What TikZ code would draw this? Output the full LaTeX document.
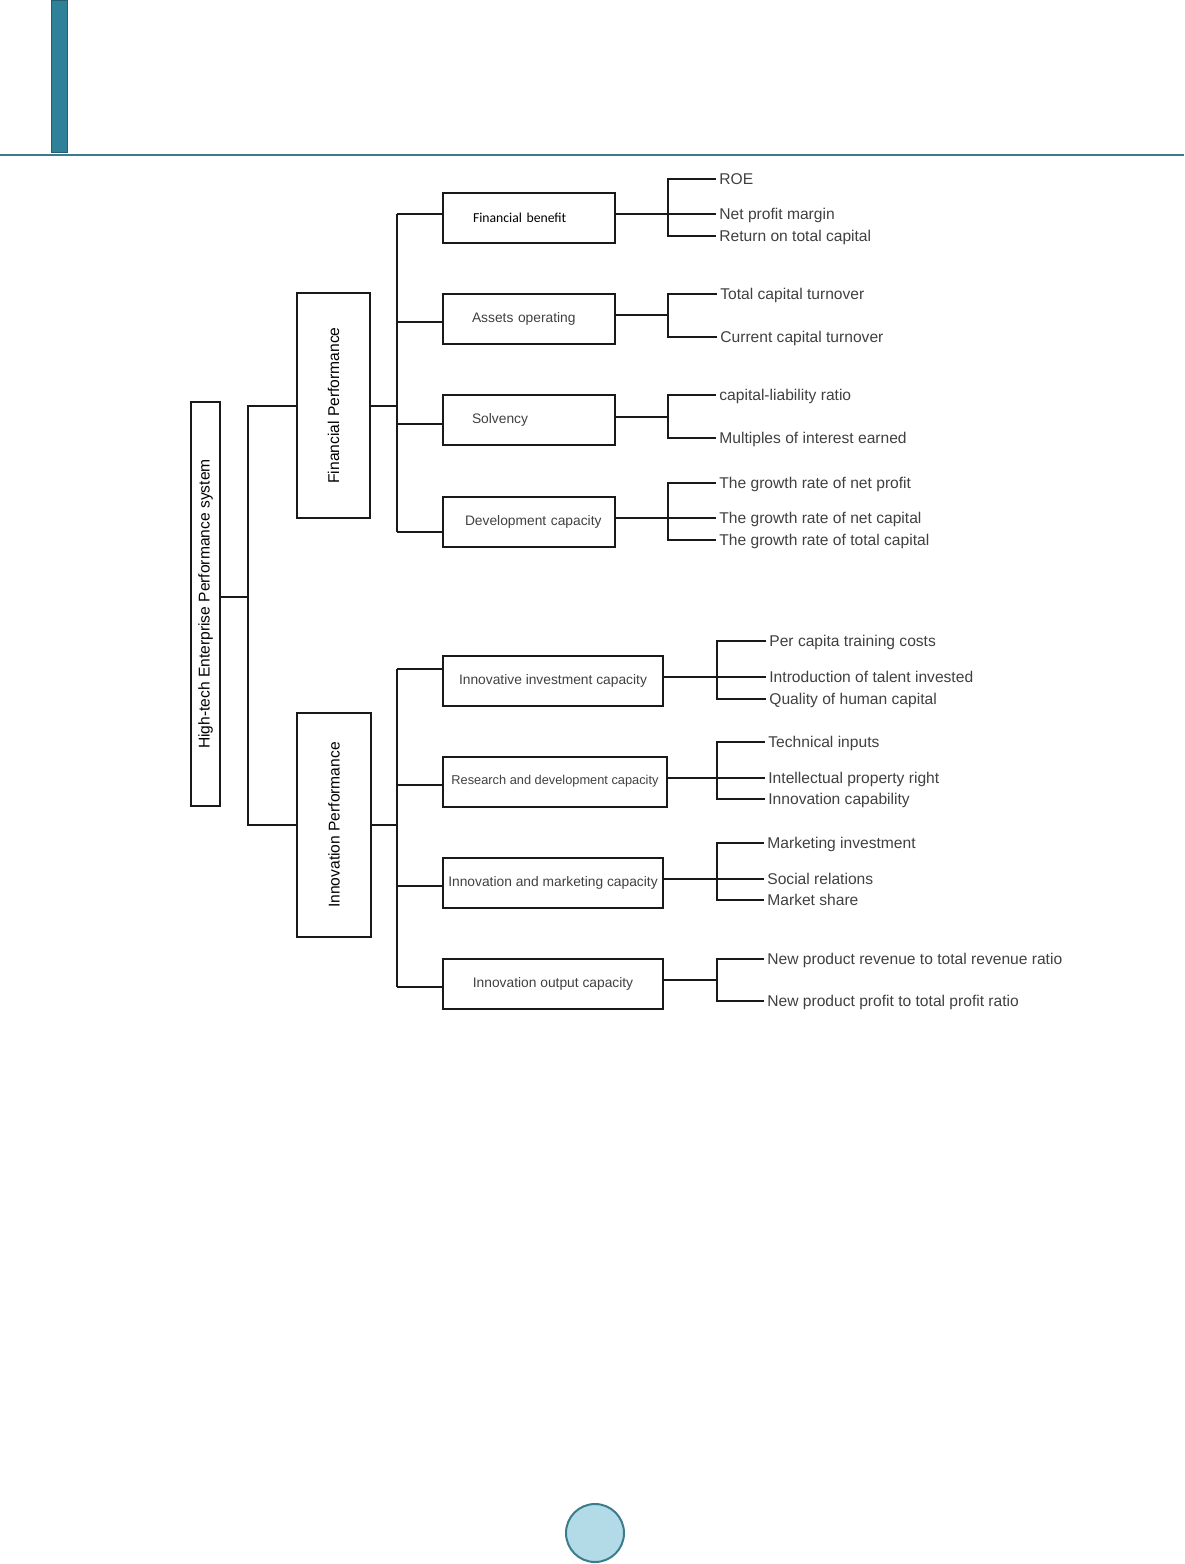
\documentclass[tikz,border=0pt]{standalone}
\usepackage{fontspec}
\setmainfont{Liberation Sans}
\newfontfamily\calibri{Carlito}
\usetikzlibrary{calc}
\usetikzlibrary{positioning}

\definecolor{headteal}{HTML}{2E8199}
\definecolor{headedge}{HTML}{245F6E}
\definecolor{rulecol}{HTML}{3B7C8C}
\definecolor{dotfill}{HTML}{B3DBE7}
\definecolor{textgray}{HTML}{404040}

\tikzset{
  tree/.style={line width=1pt, draw=black!90},
  vbox/.style={draw=black!90, line width=1pt, rotate=90, inner sep=0pt,
    font=\fontsize{7.8}{9}\selectfont},
  catbox/.style={draw=black!90, line width=1pt, inner sep=0pt,
    minimum height=25pt, text=textgray, font=\fontsize{6.9}{8}\selectfont},
  leaf/.style={anchor=west, inner xsep=1.5pt, inner ysep=0pt,
    text height=5.6pt, text depth=0pt, text=textgray,
    font=\fontsize{7.8}{9}\selectfont},
}

\begin{document}
\begin{tikzpicture}[x=0.5pt,y=-0.5pt]
    \useasboundingbox (0,0) rectangle (1184,1564);

    % page decoration
    \draw[fill=headteal, draw=headedge, line width=0.5pt] (51,0) rectangle (67,152);
    \draw[rulecol, line width=0.75pt] (0,155) -- (1184,155);
    \draw[fill=dotfill, draw=rulecol, line width=1pt] (595,1533) circle (14.5pt);

    % main boxes
    \node[vbox, minimum width=202pt, minimum height=14.5pt] (root) at (205.5,604) {High-tech Enterprise Performance system};
    \node[vbox, minimum width=112.5pt, minimum height=36.5pt] (fp) at (333.5,405.5) {Financial Performance};
    \node[vbox, minimum width=112pt, minimum height=37pt] (ip) at (334,825) {Innovation Performance};

    % financial criteria
    \node[catbox, minimum width=86pt, text width=56pt, align=left, text=black,
          font=\calibri\fontsize{6.85}{8}\selectfont] (fb) at (529,218) {Financial benefit};
    \node[catbox, minimum width=86pt, text width=57pt, align=left] (ao) at (529,319) {Assets operating};
    \node[catbox, minimum width=86pt, text width=57pt, align=left] (so) at (529,420) {Solvency};
    \node[catbox, minimum width=86pt, text width=64pt, align=left] (dc) at (529,521.5) {\mbox{Development capacity}};

    % innovation criteria
    \node[catbox, minimum width=110pt] (ii) at (553,680.5) {Innovative investment capacity};
    \node[catbox, minimum width=112pt, font=\fontsize{6.4}{8}\selectfont] (rd) at (555,781.5) {Research and development capacity};
    \node[catbox, minimum width=110pt] (im) at (553,882.5) {Innovation and marketing capacity};
    \node[catbox, minimum width=110pt] (io) at (553,983.5) {Innovation output capacity};

    % indicators
    \node[leaf] (l11) at (716,179) {ROE};
    \node[leaf] (l12) at (716,214) {Net profit margin};
    \node[leaf] (l13) at (716,236) {Return on total capital};
    \node[leaf] (l21) at (717,294) {Total capital turnover};
    \node[leaf] (l22) at (717,337) {Current capital turnover};
    \node[leaf] (l31) at (716,395) {capital-liability ratio};
    \node[leaf] (l32) at (716,438) {Multiples of interest earned};
    \node[leaf] (l41) at (716,483) {The growth rate of net profit};
    \node[leaf] (l42) at (716,518) {The growth rate of net capital};
    \node[leaf] (l43) at (716,540) {The growth rate of total capital};

    \node[leaf] (m11) at (766,641) {Per capita training costs};
    \node[leaf] (m12) at (766,677) {Introduction of talent invested};
    \node[leaf] (m13) at (766,699) {Quality of human capital};
    \node[leaf] (m21) at (765,742) {Technical inputs};
    \node[leaf] (m22) at (765,778) {Intellectual property right};
    \node[leaf] (m23) at (765,799) {Innovation capability};
    \node[leaf] (m31) at (764,843) {Marketing investment};
    \node[leaf] (m32) at (764,879) {Social relations};
    \node[leaf] (m33) at (764,900) {Market share};
    \node[leaf] (m41) at (764,959) {New product revenue to total revenue ratio};
    \node[leaf] (m42) at (764,1001) {New product profit to total profit ratio};

    % root to the two dimensions
    \coordinate (b0) at (248,597);
    \draw[tree] ([yshift=3.5pt]root.south) -- (b0);
    \draw[tree] (fp.north) -| (b0) |- (ip.north);

    % dimensions to criteria
    \coordinate (b1) at ($(fp.south)+(26,0)$);
    \coordinate (b2) at ($(ip.south)+(25,0)$);
    \draw[tree] (fp.south) -- (b1);
    \draw[tree] (ip.south) -- (b2);
    \draw[tree] ([yshift=2pt]fb.west -| b1) -- ([yshift=-5.25pt]dc.west -| b1);
    \draw[tree] ([yshift=5.75pt]ii.west -| b2) -- ([yshift=-1.75pt]io.west -| b2);
    \foreach \n/\s in {fb/2pt, ao/-1.5pt, so/-2pt, dc/-5.25pt}
        \draw[tree] ([yshift=\s]\n.west -| b1) -- ([yshift=\s]\n.west);
    \foreach \n/\s in {ii/5.75pt, rd/-1.75pt, im/-1.75pt, io/-1.75pt}
        \draw[tree] ([yshift=\s]\n.west -| b2) -- ([yshift=\s]\n.west);

    % criteria to indicators
    \coordinate (k1) at ($([yshift=2pt]fb.east)+(52,0)$);
    \coordinate (k2) at ($([yshift=2pt]ao.east)+(52,0)$);
    \coordinate (k3) at ($([yshift=1.5pt]so.east)+(52,0)$);
    \coordinate (k4) at ($([yshift=1.75pt]dc.east)+(52,0)$);
    \coordinate (j1) at ($([yshift=1.75pt]ii.east)+(53,0)$);
    \coordinate (j2) at ($([yshift=1.75pt]rd.east)+(49,0)$);
    \coordinate (j3) at ($([yshift=1.75pt]im.east)+(53,0)$);
    \coordinate (j4) at ($([yshift=1.75pt]io.east)+(53,0)$);

    \draw[tree] ([yshift=2pt]fb.east) -- (k1);
    \draw[tree] (l11.west) -| (k1) |- (l13.west);
    \draw[tree] (k1 |- l12.west) -- (l12.west);

    \draw[tree] ([yshift=2pt]ao.east) -- (k2);
    \draw[tree] (l21.west) -| (k2) |- (l22.west);

    \draw[tree] ([yshift=1.5pt]so.east) -- (k3);
    \draw[tree] (l31.west) -| (k3) |- (l32.west);

    \draw[tree] ([yshift=1.75pt]dc.east) -- (k4);
    \draw[tree] (l41.west) -| (k4) |- (l43.west);
    \draw[tree] (k4 |- l42.west) -- (l42.west);

    \draw[tree] ([yshift=1.75pt]ii.east) -- (j1);
    \draw[tree] (m11.west) -| (j1) |- (m13.west);
    \draw[tree] (j1 |- m12.west) -- (m12.west);

    \draw[tree] ([yshift=1.75pt]rd.east) -- (j2);
    \draw[tree] (m21.west) -| (j2) |- (m23.west);
    \draw[tree] (j2 |- m22.west) -- (m22.west);

    \draw[tree] ([yshift=1.75pt]im.east) -- (j3);
    \draw[tree] (m31.west) -| (j3) |- (m33.west);
    \draw[tree] (j3 |- m32.west) -- (m32.west);

    \draw[tree] ([yshift=1.75pt]io.east) -- (j4);
    \draw[tree] (m41.west) -| (j4) |- (m42.west);
\end{tikzpicture}
\end{document}
